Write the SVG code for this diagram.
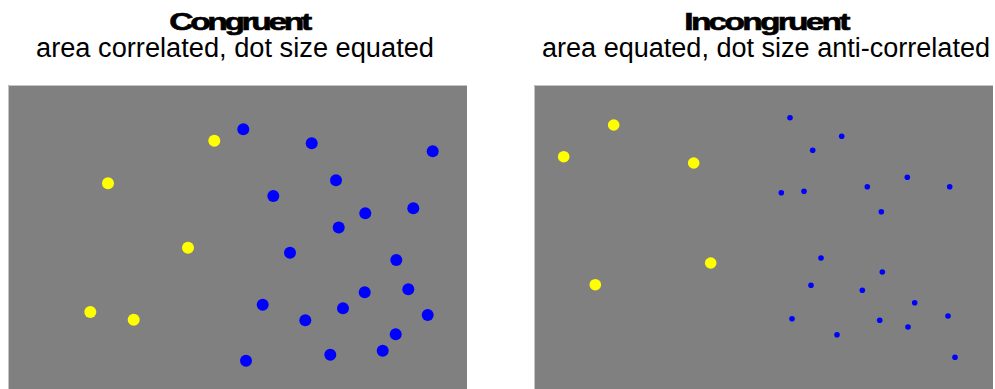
<svg xmlns="http://www.w3.org/2000/svg" width="995" height="389" viewBox="0 0 995 389">
<style>
.title{font-family:"Liberation Sans",Arial,sans-serif;font-weight:bold;font-size:24px;fill:#000;stroke:#000;stroke-width:0.6;text-anchor:middle}
.sub{font-family:"Liberation Sans",Arial,sans-serif;font-size:27px;fill:#000;text-anchor:middle}
.bg{fill:#808080}
.edge{fill:none;stroke:#c4c4c4;stroke-width:1}
.y{fill:#ffff00}
.b{fill:#0000ff}
</style>
<rect width="995" height="389" fill="#fff"/>
<g id="congruent">
<text class="title" transform="translate(239,29.5) scale(1.4,1)" letter-spacing="-2.4">Congruent</text>
<text class="sub" x="235" y="57" textLength="398" lengthAdjust="spacingAndGlyphs">area correlated, dot size equated</text>
<rect class="bg" x="8" y="85" width="459" height="304"/>
<path class="edge" d="M8.5 389V85.5H467"/>
<g id="congruent-yellow">
<circle class="y" cx="214.3" cy="140.7" r="6"/>
<circle class="y" cx="108" cy="183.3" r="6"/>
<circle class="y" cx="188" cy="247.7" r="6"/>
<circle class="y" cx="90.3" cy="312" r="6"/>
<circle class="y" cx="133.7" cy="319.7" r="6"/>
</g>
<g id="congruent-blue">
<circle class="b" cx="243.3" cy="129.3" r="6"/>
<circle class="b" cx="311.7" cy="143.3" r="6"/>
<circle class="b" cx="432.7" cy="151.3" r="6"/>
<circle class="b" cx="336" cy="180.3" r="6"/>
<circle class="b" cx="273.3" cy="196" r="6"/>
<circle class="b" cx="365.3" cy="213.3" r="6"/>
<circle class="b" cx="413.3" cy="208.3" r="6"/>
<circle class="b" cx="338.7" cy="227.5" r="6"/>
<circle class="b" cx="290" cy="252.7" r="6"/>
<circle class="b" cx="396.3" cy="260" r="6"/>
<circle class="b" cx="364.7" cy="292.3" r="6"/>
<circle class="b" cx="408.3" cy="289.3" r="6"/>
<circle class="b" cx="262.7" cy="304.7" r="6"/>
<circle class="b" cx="343" cy="308.3" r="6"/>
<circle class="b" cx="305.3" cy="320.3" r="6"/>
<circle class="b" cx="427.7" cy="315" r="6"/>
<circle class="b" cx="395.7" cy="334.3" r="6"/>
<circle class="b" cx="382.7" cy="350.7" r="6"/>
<circle class="b" cx="330.3" cy="354.7" r="6"/>
<circle class="b" cx="246" cy="360.7" r="6"/>
</g>
</g>
<g id="incongruent">
<text class="title" transform="translate(766,29.5) scale(1.4,1)" letter-spacing="-2">Incongruent</text>
<text class="sub" x="766" y="57" textLength="448" lengthAdjust="spacingAndGlyphs">area equated, dot size anti-correlated</text>
<rect class="bg" x="534" y="85" width="459" height="304"/>
<path class="edge" d="M534.5 389V85.5H993"/>
<g id="incongruent-yellow">
<circle class="y" cx="613.7" cy="125" r="5.8"/>
<circle class="y" cx="563.7" cy="156.7" r="5.8"/>
<circle class="y" cx="693.7" cy="163" r="5.8"/>
<circle class="y" cx="710.7" cy="263" r="5.8"/>
<circle class="y" cx="595.3" cy="284.7" r="5.8"/>
</g>
<g id="incongruent-blue">
<circle class="b" cx="790" cy="117.7" r="2.8"/>
<circle class="b" cx="841.7" cy="136.3" r="2.8"/>
<circle class="b" cx="812.7" cy="150.3" r="2.8"/>
<circle class="b" cx="781.3" cy="192.7" r="2.8"/>
<circle class="b" cx="804" cy="191.3" r="2.8"/>
<circle class="b" cx="867.3" cy="186.7" r="2.8"/>
<circle class="b" cx="907.3" cy="177.3" r="2.8"/>
<circle class="b" cx="949.7" cy="186.7" r="2.8"/>
<circle class="b" cx="881.3" cy="211.7" r="2.8"/>
<circle class="b" cx="821" cy="258" r="2.8"/>
<circle class="b" cx="882.3" cy="272" r="2.8"/>
<circle class="b" cx="811" cy="285.3" r="2.8"/>
<circle class="b" cx="862.3" cy="290.3" r="2.8"/>
<circle class="b" cx="914.7" cy="302.7" r="2.8"/>
<circle class="b" cx="792" cy="318.7" r="2.8"/>
<circle class="b" cx="879.7" cy="320.3" r="2.8"/>
<circle class="b" cx="908" cy="327" r="2.8"/>
<circle class="b" cx="948" cy="316" r="2.8"/>
<circle class="b" cx="837" cy="334.7" r="2.8"/>
<circle class="b" cx="955" cy="357.3" r="2.8"/>
</g>
</g>
</svg>
